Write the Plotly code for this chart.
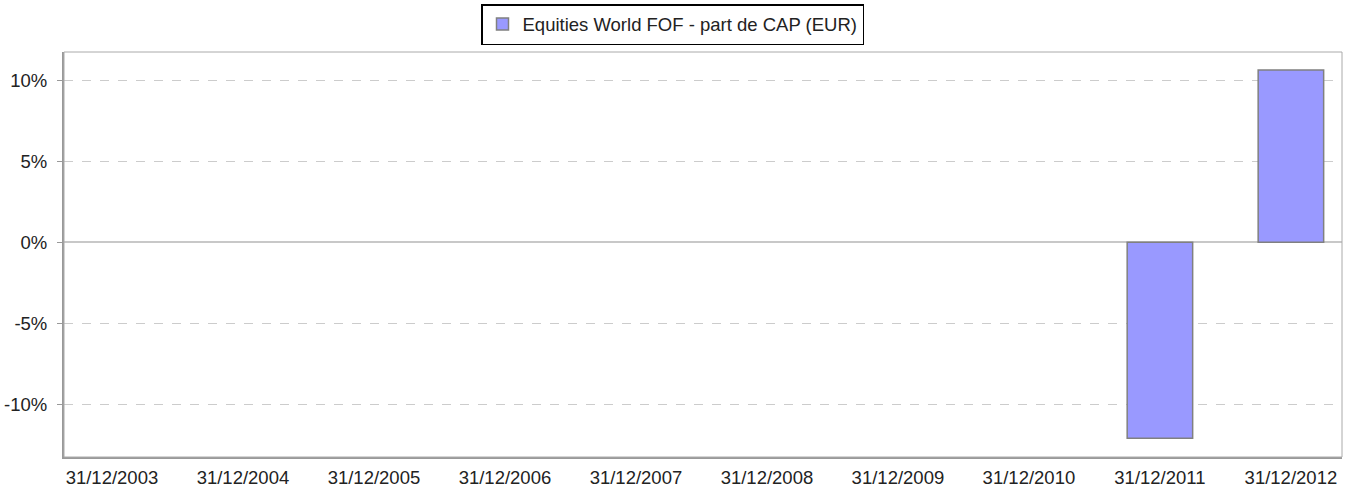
import plotly.graph_objects as go

categories = ["31/12/2003", "31/12/2004", "31/12/2005", "31/12/2006", "31/12/2007",
              "31/12/2008", "31/12/2009", "31/12/2010", "31/12/2011", "31/12/2012"]
values = [None, None, None, None, None, None, None, None, -12.11, 10.65]
series_name = "Equities World FOF - part de CAP (EUR)"
y_ticks = [-10, -5, 0, 5, 10]
y_tick_labels = ["-10%", "-5%", "0%", "5%", "10%"]

FONT = "Liberation Sans, Arial, sans-serif"
FS = 18.5

fig = go.Figure()
fig.add_trace(go.Bar(
    x=categories, y=values, name=series_name, width=0.5,
    marker=dict(color="#9999ff", line=dict(color="#808080", width=1.5)),
    showlegend=True,
))

fig.update_layout(
    width=1352, height=488,
    margin=dict(l=64, r=10, t=52, b=31, autoexpand=False),
    paper_bgcolor="white", plot_bgcolor="white",
    font=dict(family=FONT, size=FS, color="#222"),
    legend=dict(
        orientation="h", xref="container", yref="container",
        x=672.5 / 1352, xanchor="center", y=1 - 4 / 488, yanchor="top",
        bordercolor="#000", borderwidth=1.5, bgcolor="white",
        font=dict(family=FONT, size=FS, color="#222"),
        itemwidth=30, tracegroupgap=0,
    ),
    xaxis=dict(
        type="category", range=[-0.366, 9.39], automargin=False,
        showgrid=False, showline=True, linecolor="#999", linewidth=2,
        ticks="", ticklabelstandoff=3,
        tickfont=dict(family=FONT, size=FS, color="#222"),
        fixedrange=True,
    ),
    yaxis=dict(
        range=[-13.27, 11.76], tickvals=y_ticks, ticktext=y_tick_labels,
        automargin=False,
        showgrid=True, gridcolor="#cccccc", griddash="dash", gridwidth=1,
        zeroline=True, zerolinecolor="#c8c8c8", zerolinewidth=1.5,
        showline=True, linecolor="#999", linewidth=2,
        ticks="outside", ticklen=5, tickcolor="#999", ticklabelstandoff=6,
        tickfont=dict(family=FONT, size=FS, color="#222"),
        fixedrange=True,
    ),
    shapes=[dict(type="rect", xref="paper", yref="paper", x0=0, x1=1, y0=0, y1=1,
                 line=dict(color="#aaaaaa", width=1), layer="above")],
)

fig.write_html(
    "out.html",
    config={"displayModeBar": False},
    post_script="document.body.style.margin='0';document.body.style.overflow='hidden';",
)
